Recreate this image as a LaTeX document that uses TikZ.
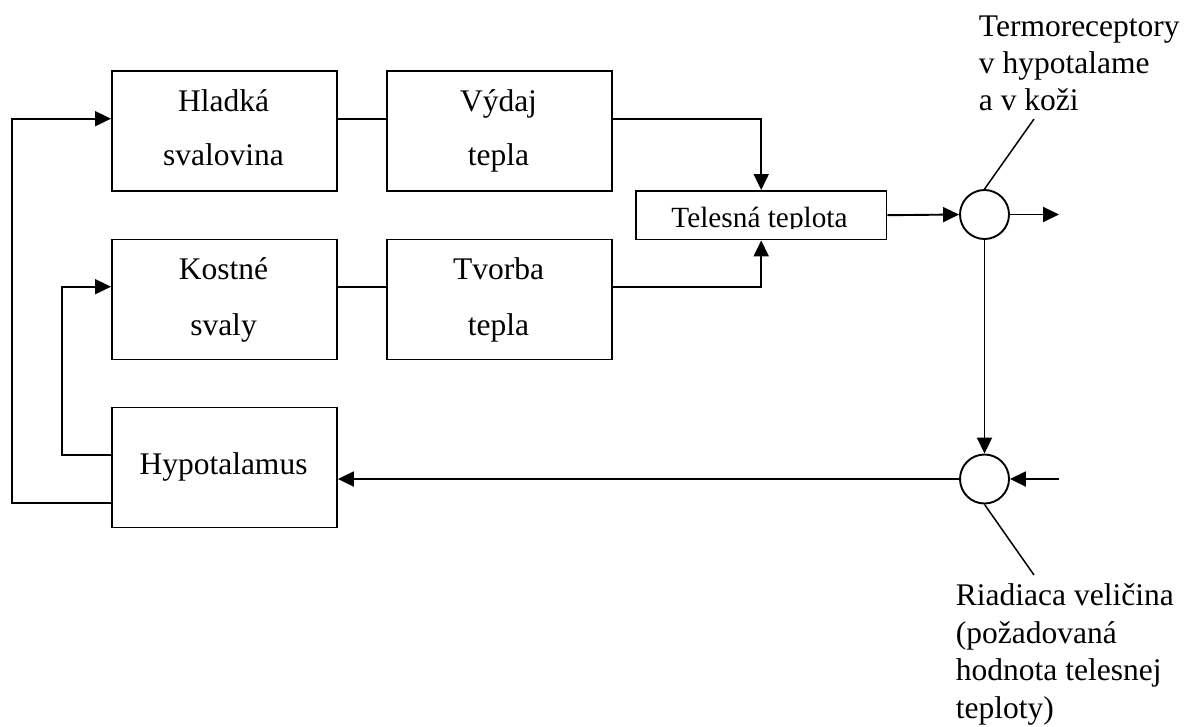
\documentclass[tikz,border=0pt]{standalone}
\usepackage{fontspec}
\setmainfont{Liberation Serif}
\usetikzlibrary{arrows.meta}
\begin{document}
\begin{tikzpicture}[x=1pt,y=-1pt,line width=1.9pt,
  box/.style={draw,line width=1.9pt,minimum width=225pt,minimum height=120pt,inner sep=0pt,anchor=north west},
  summer/.style={draw,circle,line width=1.9pt,minimum size=49pt,inner sep=0pt},
  txt/.style={anchor=base,inner sep=0pt,font=\fontsize{31.5}{37}\selectfont},
  lbl/.style={anchor=base west,inner sep=0pt,font=\fontsize{31.5}{37}\selectfont},
  tip/.style={-{Triangle[length=16pt,width=15pt]}},
  leader/.style={line width=1.5pt}]
\useasboundingbox (0,0) rectangle (1190,726);
% boxes
\node[box] (hl) at (111,70) {};
\node[box] (vy) at (386,70) {};
\node[box] (ko) at (111,238.5) {};
\node[box] (tv) at (386,238.5) {};
\node[box] (hy) at (111,406.5) {};
\node[box,minimum width=250.5pt,minimum height=48.5pt] (tel) at (635,190) {};
\node[summer] (c1) at (984.5,214.5) {};
\node[summer] (c2) at (984.5,479) {};
% box texts
\node[txt] (hl1) at (223.5,111.7) {Hladká};
\node[txt] (hl2) at (223.5,165.5) {svalovina};
\node[txt] (vy1) at (498.5,111.7) {Výdaj};
\node[txt] (vy2) at (498.5,165.5) {tepla};
\node[txt] (ko1) at (223.5,279.5) {Kostné};
\node[txt] (ko2) at (223.5,335) {svaly};
\node[txt] (tv1) at (498.5,279.5) {Tvorba};
\node[txt] (tv2) at (498.5,335) {tepla};
\node[txt] (hy1) at (223.5,474.3) {Hypotalamus};
\begin{scope}
  \clip (636,191) rectangle (885,228.6);
  \node[anchor=base,inner sep=0pt,font=\fontsize{29.3}{30}\selectfont] (telt) at (759.5,227.7) {Telesná teplota};
\end{scope}
% labels
\node[lbl] (r1) at (978,36.5) {Termoreceptory};
\node[lbl] (r2) at (978,73.5) {v hypotalame};
\node[lbl] (r3) at (978,110.5) {a v koži};
\node[lbl] (s1) at (955,605.5) {Riadiaca veličina};
\node[lbl] (s2) at (955,643) {(požadovaná};
\node[lbl] (s3) at (955,680.5) {hodnota telesnej};
\node[lbl] (s4) at (955,718) {teploty)};
% helper coordinates
\coordinate (yA) at (0,118.7);
\coordinate (yB) at (0,286.7);
\coordinate (yC) at (0,502.7);
\coordinate (yD) at (0,455);
\coordinate (xL) at (12.3,0);
\coordinate (xM) at (61.7,0);
\coordinate (out1) at (1059,214.5);
\coordinate (in2) at (1059,479);
\coordinate (lead1) at (1034,119);
\coordinate (lead2) at (1034,575);
% connectors
\draw (hl.east |- yA) -- (vy.west |- yA);
\draw (ko.east |- yB) -- (tv.west |- yB);
\draw[tip] (vy.east |- yA) -| (tel.north);
\draw[tip] (tv.east |- yB) -| (tel.south);
\draw[tip] (tel.east) -- (c1.west);
\draw[tip] (c1.east) -- (out1);
\draw[tip] (c1.south) -- (c2.north);
\draw[tip] (in2) -- (c2.east);
\draw[tip] (c2.west) -- (c2.west -| hy.east);
\draw[tip] (hy.west |- yC) -- (xL |- yC) -- (xL |- yA) -- (hl.west |- yA);
\draw[tip] (hy.west |- yD) -- (xM |- yD) -- (xM |- yB) -- (ko.west |- yB);
\draw[leader] (c1.north) -- (lead1);
\draw[leader] (c2.south) -- (lead2);
\end{tikzpicture}
\end{document}
